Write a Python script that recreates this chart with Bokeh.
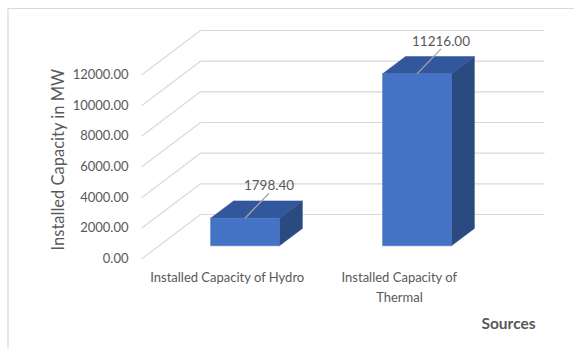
import numpy as np
from bokeh.plotting import figure
from bokeh.models import Range1d
from bokeh.core.properties import value
from bokeh.embed import file_html
from bokeh.resources import INLINE

# ---------------- data ----------------
CATEGORIES = ["Installed Capacity of Hydro", "Installed Capacity of Thermal"]
CATEGORY_DISPLAY = ["Installed Capacity of Hydro", "Installed Capacity of\nThermal"]
CAPACITY_MW = [1798.40, 11216.00]
Y_TICKS = [0, 2000, 4000, 6000, 8000, 10000, 12000]
Y_TITLE = "Installed Capacity in MW"
X_TITLE = "Sources"

# ---------------- layout / style ----------------
W, H = 574, 348
PX_PER_CAT = 172.0          # pixels per category on the front floor edge
X0_PX = 141.0               # front-left corner of the floor
PX_PER_MW = 0.015333        # vertical scale
Y0_PX = 258.5               # value 0 on the front plane

def px_x(px):
    return (px - X0_PX) / PX_PER_CAT

def px_y(py):
    return (Y0_PX - py) / PX_PER_MW

DX = 59.0 / PX_PER_CAT      # depth vector (category units)
DY = 44.5 / PX_PER_MW       # depth vector (value units)
BAR_FRONT = 0.2965          # depth fraction of bar front face
BAR_DEPTH = 0.39            # depth fraction of bar thickness
BAR_HALF = 0.2              # half bar width (category units)

FRONT = "#4472C4"
TOP = "#33579C"
SIDE = "#2B4A80"
GRID = "#D9D9D9"
TEXT = "#595959"
FONT = "Lato"

p = figure(width=W, height=H, output_backend="svg", toolbar_location=None,
           x_range=Range1d(px_x(0), px_x(W)), y_range=Range1d(px_y(H), px_y(0)),
           min_border=0, min_border_left=0, min_border_right=0,
           min_border_top=0, min_border_bottom=0)
p.axis.visible = False
p.grid.visible = False
p.outline_line_color = None
p.background_fill_color = "white"
p.border_fill_color = "white"

# chart-area border (top and left visible)
p.line(x=[px_x(7.5), px_x(7.5), px_x(W + 5)], y=[px_y(H + 5), px_y(8), px_y(8)],
       line_color=GRID, line_width=1.2)

# gridlines: front-left -> back-left -> back-right
ticks = np.array(Y_TICKS, dtype=float)
ncat = len(CATEGORIES)
gxs = [[0.0, DX, ncat + DX] for _ in ticks]
gys = [[t, t + DY, t + DY] for t in ticks]
p.multi_line(xs=gxs, ys=gys, line_color=GRID, line_width=1.2)

# tick labels
p.text(x=[px_x(128)] * len(ticks), y=list(ticks + 60),
       text=["%.2f" % t for t in ticks],
       text_align="right", text_baseline="middle",
       text_font=value(FONT), text_font_size="13px", text_color=TEXT)

# bars (3D)
vals = np.array(CAPACITY_MW)
centers = np.arange(ncat) + 0.5
ox = BAR_FRONT * DX
oy = BAR_FRONT * DY
bdx = BAR_DEPTH * DX
bdy = BAR_DEPTH * DY
xl = centers - BAR_HALF + ox
xr = centers + BAR_HALF + ox

side_xs = [[r, r + bdx, r + bdx, r] for r in xr]
side_ys = [[oy, oy + bdy, oy + v + bdy, oy + v] for v in vals]
top_xs = [[l, r, r + bdx, l + bdx] for l, r in zip(xl, xr)]
top_ys = [[oy + v, oy + v, oy + v + bdy, oy + v + bdy] for v in vals]
p.patches(xs=side_xs, ys=side_ys, fill_color=SIDE, line_color=SIDE, line_width=0.5)
p.patches(xs=top_xs, ys=top_ys, fill_color=TOP, line_color=TOP, line_width=0.5)
p.quad(left=xl, right=xr, bottom=[oy] * ncat, top=oy + vals,
       fill_color=FRONT, line_color=FRONT, line_width=0.5)

# data labels with leader lines
lead_dx = 24.0 / PX_PER_CAT
lead_dy = 25.0 / PX_PER_MW
cx = centers + ox
lx0, ly0 = cx, oy + vals
lx1, ly1 = cx + lead_dx, oy + vals + lead_dy
p.segment(x0=lx0, y0=ly0, x1=lx1, y1=ly1, line_color="#A6A6A6", line_width=1.3)
p.text(x=lx1, y=ly1 + 3.0 / PX_PER_MW, text=["%.2f" % v for v in vals],
       text_align="center", text_baseline="bottom",
       text_font=value(FONT), text_font_size="13.5px", text_color=TEXT)

# category labels
p.text(x=centers, y=[px_y(268)] * ncat, text=CATEGORY_DISPLAY,
       text_align="center", text_baseline="top", text_line_height=1.3,
       text_font=value(FONT), text_font_size="13px", text_color=TEXT)

# axis titles
p.text(x=[px_x(57)], y=[px_y(159)], text=[Y_TITLE], angle=np.pi / 2,
       text_align="center", text_baseline="middle",
       text_font=value(FONT), text_font_size="16.5px", text_color=TEXT)
p.text(x=[px_x(508)], y=[px_y(322)], text=[X_TITLE],
       text_align="center", text_baseline="middle", text_font_style="bold",
       text_font=value(FONT), text_font_size="15.5px", text_color=TEXT)

open("out.html", "w").write(file_html(p, INLINE))
